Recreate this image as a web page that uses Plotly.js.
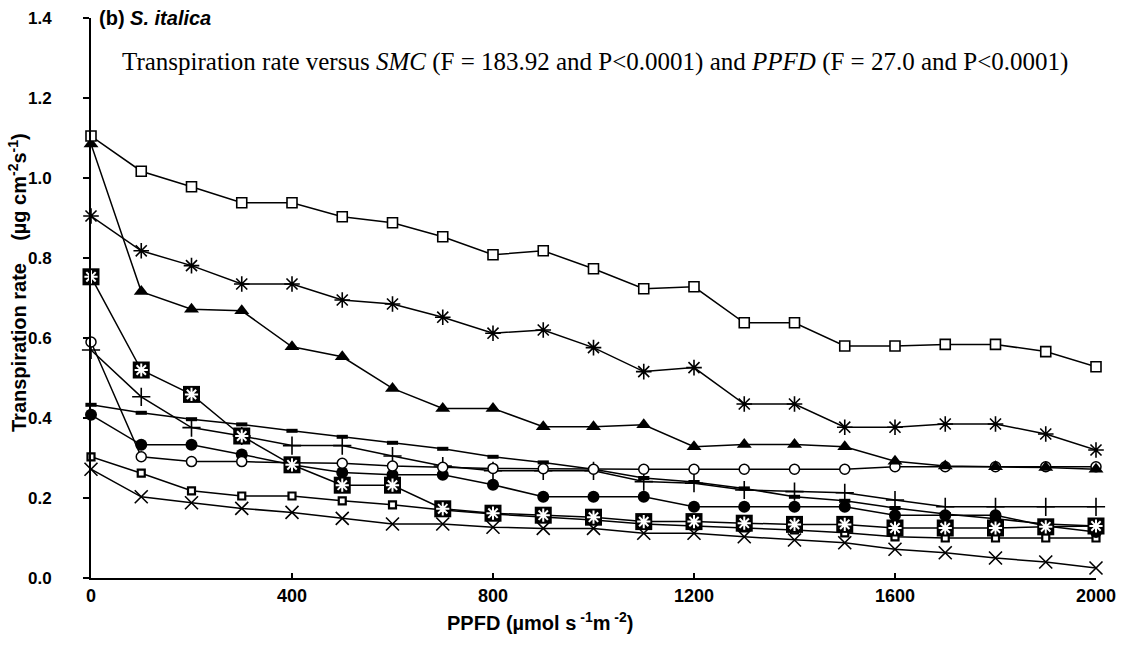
<!DOCTYPE html>
<html>
<head>
<meta charset="utf-8">
<script src="https://cdn.plot.ly/plotly-3.0.1.min.js"></script>
<style>html,body{margin:0;padding:0;background:#fff}#chart{width:1133px;height:660px}</style>
</head>
<body>
<div id="chart"></div>
<script>
// PPFD levels (µmol s-1 m-2)
const ppfd = [0,100,200,300,400,500,600,700,800,900,1000,1100,1200,1300,1400,1500,1600,1700,1800,1900,2000];

// Transpiration rate series (µg cm-2 s-1), one per soil moisture level
const sOpenSquare   = [1.105,1.017,0.978,0.938,0.938,0.903,0.888,0.853,0.808,0.818,0.773,0.723,0.728,0.638,0.638,0.580,0.580,0.584,0.584,0.566,0.528];
const sAsterisk     = [0.905,0.818,0.781,0.735,0.735,0.695,0.685,0.652,0.612,0.620,0.576,0.516,0.526,0.435,0.435,0.377,0.377,0.385,0.385,0.360,0.320];
const sTriangle     = [1.085,0.716,0.672,0.668,0.578,0.553,0.474,0.424,0.424,0.378,0.378,0.383,0.328,0.334,0.334,0.328,0.292,0.280,0.278,0.276,0.272];
const sBigSquare    = [0.753,0.520,0.459,0.355,0.283,0.232,0.232,0.173,0.162,0.157,0.152,0.141,0.141,0.137,0.134,0.134,0.125,0.125,0.125,0.128,0.130];
const sOpenCircle   = [0.590,0.303,0.291,0.291,0.288,0.287,0.280,0.277,0.274,0.273,0.272,0.272,0.272,0.272,0.272,0.272,0.278,0.278,0.278,0.278,0.278];
const sPlus         = [0.570,0.453,0.376,0.355,0.331,0.331,0.305,0.280,0.268,0.268,0.268,0.241,0.237,0.220,0.216,0.213,0.195,0.178,0.178,0.178,0.178];
const sDash         = [0.433,0.413,0.397,0.384,0.368,0.353,0.338,0.323,0.303,0.289,0.272,0.250,0.240,0.224,0.203,0.193,0.175,0.160,0.148,0.135,0.130];
const sFilledCircle = [0.408,0.333,0.333,0.309,0.283,0.264,0.258,0.258,0.233,0.203,0.203,0.203,0.178,0.178,0.178,0.178,0.157,0.157,0.157,0.130,0.115];
const sSmallSquare  = [0.303,0.262,0.218,0.205,0.205,0.193,0.183,0.170,0.160,0.152,0.145,0.135,0.130,0.125,0.120,0.113,0.103,0.100,0.100,0.100,0.100];
const sCross        = [0.272,0.203,0.188,0.174,0.164,0.149,0.135,0.135,0.127,0.124,0.124,0.112,0.112,0.103,0.095,0.088,0.072,0.063,0.050,0.040,0.025];

const yTicks = [0,0.2,0.4,0.6,0.8,1.0,1.2,1.4];
const xTicks = [0,400,800,1200,1600,2000];

const LINE = {color:'#000', width:1.5};
function tr(y, marker, extra){
  return Object.assign({x:ppfd, y:y, type:'scatter', mode:'lines+markers', line:LINE,
    marker:marker, showlegend:false, hoverinfo:'skip', cliponaxis:false}, extra||{});
}

const traces = [
  tr(sCross, {symbol:'x-thin-open', size:13, color:'#000', line:{color:'#000', width:1.6}}),
  tr(sSmallSquare, {symbol:'square', size:7, color:'#fff', line:{color:'#000', width:2.2}}),
  tr(sFilledCircle, {symbol:'circle', size:12, color:'#000', line:{color:'#000', width:0}}),
  tr(sDash, {symbol:'line-ew-open', size:8, color:'#000', line:{color:'#000', width:4}}),
  tr(sPlus, {symbol:'cross-thin-open', size:13, color:'#000', line:{color:'#000', width:1.6}}),
  tr(sOpenCircle, {symbol:'circle', size:10, color:'#fff', line:{color:'#000', width:1.5}}),
  tr(sBigSquare, {symbol:'square', size:17, color:'#000', line:{color:'#000', width:0}}),
  tr(sBigSquare, {symbol:'asterisk-open', size:11, color:'#fff', line:{color:'#fff', width:2}}, {mode:'markers'}),
  tr(sTriangle, {symbol:'triangle-up', size:13, color:'#000', line:{color:'#000', width:0}}),
  tr(sAsterisk, {symbol:'asterisk-open', size:13, color:'#000', line:{color:'#000', width:1.6}}),
  tr(sOpenSquare, {symbol:'square', size:10, color:'#fff', line:{color:'#000', width:1.6}})
];

const SANS = 'Liberation Sans, Arial, sans-serif';

const layout = {
  width:1133, height:660,
  margin:{l:91, r:37, t:18, b:82, pad:0},
  paper_bgcolor:'#fff', plot_bgcolor:'#fff',
  xaxis:{range:[0,2000], tickvals:xTicks, ticktext:xTicks.map(String), showgrid:false, zeroline:false,
    showline:true, linecolor:'#000', linewidth:2, ticks:'inside', ticklen:5, tickwidth:2, tickcolor:'#000',
    tickfont:{family:SANS, size:18, color:'#000', weight:'bold'}},
  yaxis:{range:[0,1.4], tickvals:yTicks, ticktext:yTicks.map(v=>v.toFixed(1)), showgrid:false, zeroline:false,
    showline:true, linecolor:'#000', linewidth:2, ticks:'outside', ticklen:6, tickwidth:2, tickcolor:'#000',
    ticklabelstandoff:28,
    tickfont:{family:SANS, size:17, color:'#000', weight:'bold'}},
  annotations:[
    {xref:'paper', yref:'paper', x:(540-91)/1005, y:-(621-578)/560, xanchor:'center', yanchor:'middle', showarrow:false,
     text:'PPFD (µmol s<sup> -1</sup>m<sup> -2</sup>)', font:{family:SANS, size:20, color:'#000', weight:'bold'}},
    {xref:'paper', yref:'paper', x:-(91-17)/1005, y:(578-283)/560, xanchor:'center', yanchor:'middle', showarrow:false, textangle:-90,
     text:'Transpiration rate&nbsp;&nbsp;&nbsp; (µg cm<sup>-2</sup>s<sup>-1</sup>)', font:{family:SANS, size:20, color:'#000', weight:'bold'}},
    {xref:'paper', yref:'paper', x:(97-91)/1005, y:(578-18)/560, xanchor:'left', yanchor:'middle', showarrow:false,
     text:'(b) <i>S. italica</i>', font:{family:SANS, size:20, color:'#000', weight:'bold'}},
    {xref:'paper', yref:'paper', x:(120-91)/1005, y:(578-62)/560, xanchor:'left', yanchor:'middle', showarrow:false,
     text:'Transpiration rate versus <i>SMC</i> (F = 183.92 and P&lt;0.0001) and <i>PPFD</i> (F = 27.0 and P&lt;0.0001)',
     font:{family:'Liberation Serif, Times New Roman, serif', size:25, color:'#000'}}
  ]
};

Plotly.newPlot('chart', traces, layout, {staticPlot:true, displayModeBar:false});
</script>
</body>
</html>
